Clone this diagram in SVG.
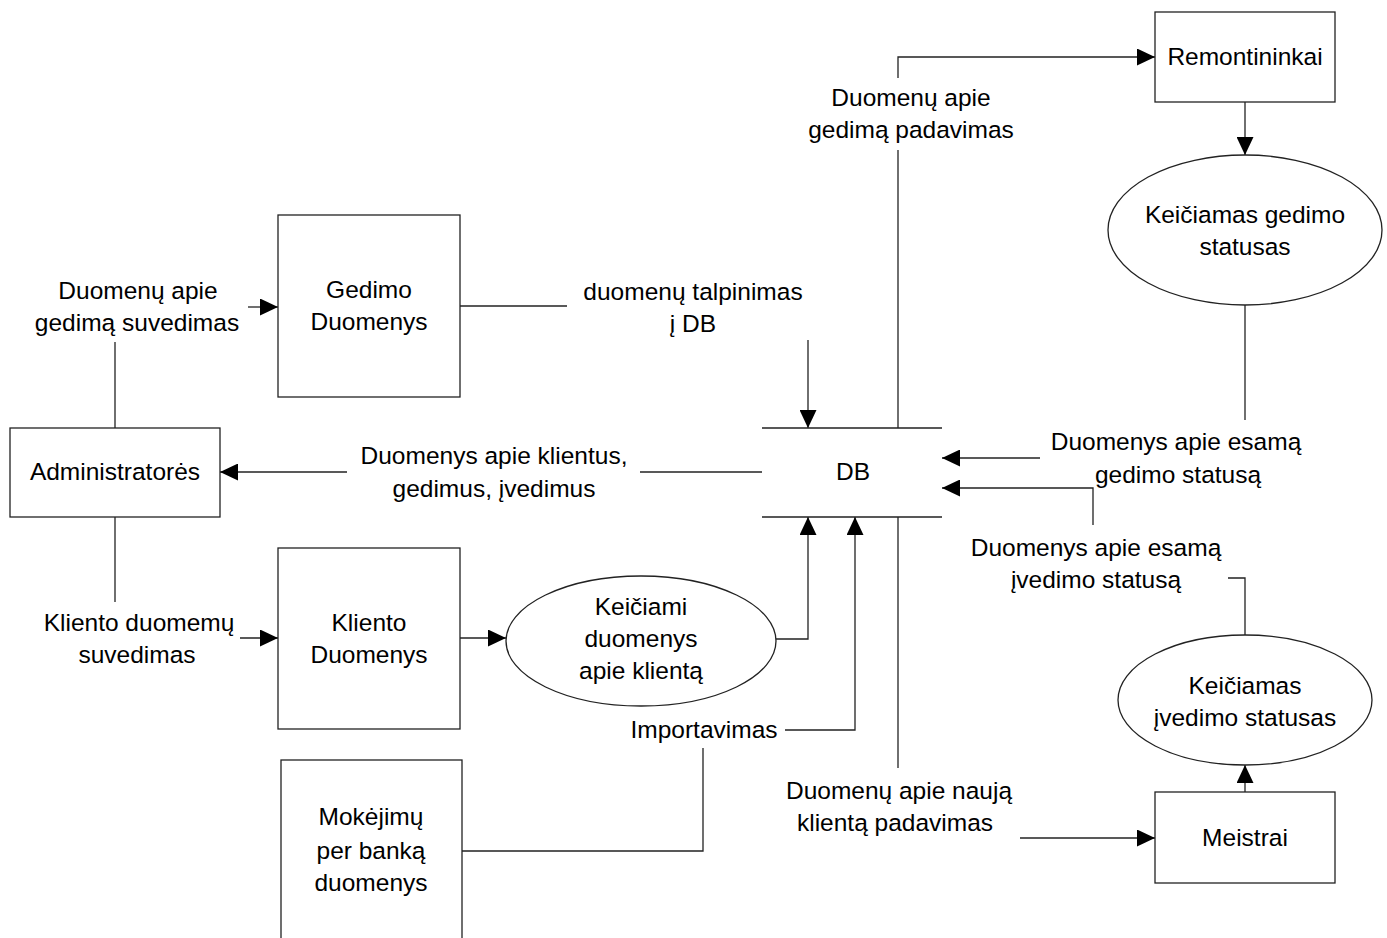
<svg xmlns="http://www.w3.org/2000/svg" width="1387" height="938" viewBox="0 0 1387 938">
  <style>
    .box { fill: #ffffff; stroke: #222222; stroke-width: 1.3; }
    .store { fill: none; stroke: #222222; stroke-width: 1.3; }
    .flow { fill: none; stroke: #222222; stroke-width: 1.3; }
    .arr { marker-end: url(#head); }
    text { font-family: "Liberation Sans", Arial, sans-serif; font-size: 24.5px; fill: #000000; text-anchor: middle; }
  </style>
  <defs>
    <marker id="head" markerUnits="userSpaceOnUse" markerWidth="18" markerHeight="17" refX="18" refY="8.5" orient="auto">
      <path d="M0,0 L18,8.5 L0,17 z" fill="#000000"/>
    </marker>
  </defs>
  <rect width="1387" height="938" fill="#ffffff"/>

  <!-- data flows -->
  <g id="connectors">
    <path class="flow" d="M898,428 V150"/>
    <path class="flow arr" d="M898,78 V57 H1155"/>
    <path class="flow arr" d="M1245,102 V155"/>
    <path class="flow" d="M1245,305 V420"/>
    <path class="flow arr" d="M1040,458 H942"/>
    <path class="flow" d="M1245,636 V578 H1228"/>
    <path class="flow arr" d="M1093,525 V488 H942"/>
    <path class="flow arr" d="M1245,792 V765"/>
    <path class="flow" d="M898,517 V768"/>
    <path class="flow arr" d="M1020,838 H1155"/>
    <path class="flow" d="M460,306 H567"/>
    <path class="flow arr" d="M808,340 V428"/>
    <path class="flow" d="M762,472 H640"/>
    <path class="flow arr" d="M347,472 H220"/>
    <path class="flow" d="M115,428 V342"/>
    <path class="flow arr" d="M248,307 H278"/>
    <path class="flow" d="M115,517 V602"/>
    <path class="flow arr" d="M240,638 H278"/>
    <path class="flow arr" d="M460,638 H506"/>
    <path class="flow arr" d="M776,639 H808 V517"/>
    <path class="flow" d="M462,851 H703 V748"/>
    <path class="flow arr" d="M785,730 H855 V517"/>

    <!-- flow labels -->
    <text x="911" y="106">Duomenų apie</text>
    <text x="911" y="138">gedimą padavimas</text>
    <text x="1176" y="450">Duomenys apie esamą</text>
    <text x="1178" y="483">gedimo statusą</text>
    <text x="1096" y="556">Duomenys apie esamą</text>
    <text x="1096" y="588">įvedimo statusą</text>
    <text x="899" y="799">Duomenų apie naują</text>
    <text x="895" y="831">klientą padavimas</text>
    <text x="693" y="300">duomenų talpinimas</text>
    <text x="693" y="332">į DB</text>
    <text x="494" y="464">Duomenys apie klientus,</text>
    <text x="494" y="497">gedimus, įvedimus</text>
    <text x="138" y="299">Duomenų apie</text>
    <text x="137" y="331">gedimą suvedimas</text>
    <text x="139" y="631">Kliento duomemų</text>
    <text x="137" y="663">suvedimas</text>
    <text x="704" y="738">Importavimas</text>
  </g>

  <g id="remontininkai">
    <rect class="box" x="1155" y="12" width="180" height="90"/>
    <text x="1245" y="65">Remontininkai</text>
  </g>

  <g id="keiciamas-gedimo-statusas">
    <ellipse class="box" cx="1245" cy="230" rx="137" ry="75"/>
    <text x="1245" y="223">Keičiamas gedimo</text>
    <text x="1245" y="255">statusas</text>
  </g>

  <g id="gedimo-duomenys">
    <rect class="box" x="278" y="215" width="182" height="182"/>
    <text x="369" y="298">Gedimo</text>
    <text x="369" y="330">Duomenys</text>
  </g>

  <g id="administratores">
    <rect class="box" x="10" y="428" width="210" height="89"/>
    <text x="115" y="480">Administratorės</text>
  </g>

  <g id="db">
    <path class="store" d="M762,428 H942 M762,517 H942"/>
    <text x="853" y="480">DB</text>
  </g>

  <g id="kliento-duomenys">
    <rect class="box" x="278" y="548" width="182" height="181"/>
    <text x="369" y="631">Kliento</text>
    <text x="369" y="663">Duomenys</text>
  </g>

  <g id="keiciami-duomenys">
    <ellipse class="box" cx="641" cy="641" rx="135" ry="65"/>
    <text x="641" y="615">Keičiami</text>
    <text x="641" y="647">duomenys</text>
    <text x="641" y="679">apie klientą</text>
  </g>

  <g id="mokejimu-duomenys">
    <rect class="box" x="281" y="760" width="181" height="190"/>
    <text x="371" y="825">Mokėjimų</text>
    <text x="371" y="859">per banką</text>
    <text x="371" y="891">duomenys</text>
  </g>

  <g id="keiciamas-ivedimo-statusas">
    <ellipse class="box" cx="1245" cy="700" rx="127" ry="65"/>
    <text x="1245" y="694">Keičiamas</text>
    <text x="1245" y="726">įvedimo statusas</text>
  </g>

  <g id="meistrai">
    <rect class="box" x="1155" y="792" width="180" height="91"/>
    <text x="1245" y="846">Meistrai</text>
  </g>
</svg>
